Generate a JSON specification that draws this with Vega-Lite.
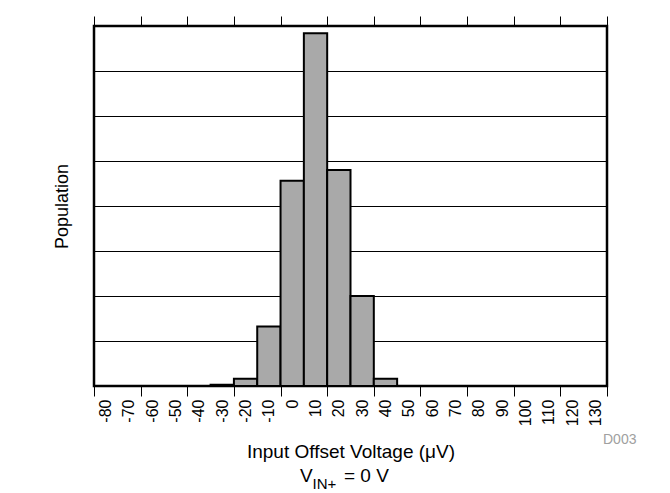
{
  "$schema": "https://vega.github.io/schema/vega-lite/v6.json",
  "width": 513,
  "height": 360,
  "autosize": {"type": "none"},
  "padding": {"left": 94, "top": 26, "right": 63, "bottom": 107},
  "background": "white",
  "config": {
    "view": {"stroke": "black", "strokeWidth": 2.5},
    "font": "Liberation Sans",
    "axis": {"labelFont": "Liberation Sans", "titleFont": "Liberation Sans"},
    "text": {"font": "Liberation Sans"}
  },
  "data": {
    "values": [
      {"bin_start": -35, "bin_end": -25, "population": 0.03},
      {"bin_start": -25, "bin_end": -15, "population": 0.16},
      {"bin_start": -15, "bin_end": -5, "population": 1.32},
      {"bin_start": -5, "bin_end": 5, "population": 4.56},
      {"bin_start": 5, "bin_end": 15, "population": 7.84},
      {"bin_start": 15, "bin_end": 25, "population": 4.8},
      {"bin_start": 25, "bin_end": 35, "population": 2.0},
      {"bin_start": 35, "bin_end": 45, "population": 0.16}
    ]
  },
  "layer": [
    {
      "mark": {"type": "bar", "fill": "#a9a9a9", "stroke": "black", "strokeWidth": 2},
      "encoding": {
        "x": {
          "field": "bin_start",
          "type": "quantitative",
          "scale": {"domain": [-85, 135], "nice": false, "zero": false},
          "axis": {
            "orient": "bottom",
            "values": [-85,-80,-75,-70,-65,-60,-55,-50,-45,-40,-35,-30,-25,-20,-15,-10,-5,0,5,10,15,20,25,30,35,40,45,50,55,60,65,70,75,80,85,90,95,100,105,110,115,120,125,130,135],
            "labelExpr": "datum.value % 10 == 0 ? '' + datum.value : ''",
            "labelAngle": 270,
            "labelFontSize": 16,
            "labelColor": "black",
            "labelPadding": 3,
            "labelOverlap": false,
            "labelFlush": false,
            "tickSize": 10,
            "tickColor": "black",
            "tickWidth": 1,
            "tickOpacity": {"condition": {"test": "(datum.value + 85) % 20 == 0", "value": 1}, "value": 0},
            "domain": false,
            "grid": false,
            "title": "Input Offset Voltage (μV)",
            "titleFontSize": 19,
            "titleFontWeight": "normal",
            "titleColor": "black",
            "titlePadding": 17
          }
        },
        "x2": {"field": "bin_end"},
        "y": {
          "field": "population",
          "type": "quantitative",
          "scale": {"domain": [0, 8], "nice": false},
          "axis": {
            "values": [0,1,2,3,4,5,6,7,8],
            "grid": true,
            "gridColor": "black",
            "gridWidth": 1,
            "gridOpacity": 1,
            "labels": false,
            "ticks": false,
            "domain": false,
            "title": "Population",
            "titleFontSize": 18,
            "titleFontWeight": "normal",
            "titleColor": "black",
            "titlePadding": 23
          }
        },
        "y2": {"datum": 0}
      }
    },
    {
      "data": {"values": [{"note": "D003"}]},
      "mark": {"type": "text", "align": "left", "baseline": "middle", "dx": -4, "dy": 54, "fontSize": 14, "color": "#a0a0a0"},
      "encoding": {
        "text": {"field": "note"},
        "x": {
          "datum": 135,
          "type": "quantitative",
          "axis": {
            "orient": "top",
            "values": [-85,-65,-45,-25,-5,15,35,55,75,95,115,135],
            "labels": false,
            "domain": false,
            "grid": false,
            "ticks": true,
            "tickSize": 10,
            "tickColor": "black",
            "tickWidth": 1,
            "title": null
          }
        },
        "y": {"datum": 0, "type": "quantitative"}
      }
    },
    {
      "data": {"values": [{"t": "V"}]},
      "mark": {"type": "text", "align": "left", "baseline": "alphabetic", "dx": -50.5, "dy": 96, "fontSize": 19, "color": "black"},
      "encoding": {
        "text": {"field": "t"},
        "x": {"datum": 25, "type": "quantitative", "axis": null},
        "y": {"datum": 0, "type": "quantitative"}
      }
    },
    {
      "data": {"values": [{"t": "IN+"}]},
      "mark": {"type": "text", "align": "left", "baseline": "alphabetic", "dx": -38, "dy": 103, "fontSize": 15, "color": "black"},
      "encoding": {
        "text": {"field": "t"},
        "x": {"datum": 25, "type": "quantitative", "axis": null},
        "y": {"datum": 0, "type": "quantitative"}
      }
    },
    {
      "data": {"values": [{"t": "= 0 V"}]},
      "mark": {"type": "text", "align": "left", "baseline": "alphabetic", "dx": -6.5, "dy": 96, "fontSize": 19, "color": "black"},
      "encoding": {
        "text": {"field": "t"},
        "x": {"datum": 25, "type": "quantitative", "axis": null},
        "y": {"datum": 0, "type": "quantitative"}
      }
    }
  ],
  "resolve": {"axis": {"x": "independent"}}
}
